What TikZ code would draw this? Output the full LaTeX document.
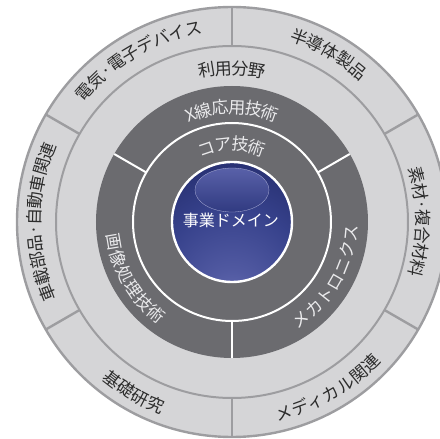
\documentclass[tikz,border=0pt]{standalone}
\usepackage{fontspec}
\setmainfont{Noto Sans CJK JP}
\usetikzlibrary{decorations.text}
\definecolor{bandgray}{HTML}{D5D5D7}
\definecolor{linegray}{HTML}{9D9DA0}
\definecolor{ringgray}{HTML}{6B6B6F}
\definecolor{txtdark}{HTML}{2B2B2B}
\definecolor{txtlight}{HTML}{EAEAEC}
\definecolor{balldark}{HTML}{1F2663}
\definecolor{ballmid}{HTML}{36418B}
\definecolor{ballglow}{HTML}{6C72B8}
\pgfdeclareradialshading{ballshade}{\pgfpoint{0bp}{-38bp}}{color(0bp)=(ballglow);color(12bp)=(ballglow!50!ballmid);color(30bp)=(ballmid);color(52bp)=(balldark);color(80bp)=(balldark)}
\newcommand\outtxt{\fontsize{17}{20}\selectfont\color{txtdark}}
\newcommand\intxt{\fontsize{17}{20}\selectfont\color{txtlight}}

\begin{document}
\begin{tikzpicture}[x=1pt,y=1pt,arctext/.style={decorate,decoration={text along path,text align=center,raise=-6.5pt,text={#1}}},outline/.style={draw=linegray,line width=2.4pt},cut/.style={draw=white,line width=2pt}]
\useasboundingbox(-232,-217)rectangle(208,222);
\clip(-232,-217)rectangle(208,222);
% rings
\fill[bandgray,outline](0,0)circle(215);
\draw[outline,line width=2pt](0,0)circle(176);
\fill[ringgray](0,0)circle(136);
\draw[cut](0,0)circle(99);
\foreach \a in {30,90,...,330}\draw[outline](\a:176)--(\a:215);
\foreach \a in {30,150,270}\draw[cut](\a:99)--(\a:136);
% core
\shade[shading=ballshade,draw=white,line width=2.4pt](0,0)circle(60);
\shade[top color=ballglow!65!ballmid,bottom color=ballmid!75!balldark,draw=ballglow!55!white,line width=.3pt](0,32)ellipse[x radius=37,y radius=22];
\node[text=white,font=\fontsize{16}{18}\selectfont](dom)at(-1,2){事業ドメイン};
% labels
\path[arctext={|\outtxt|電気·電子デバイス}](150:197)arc[start angle=150,end angle=90,radius=197];
\path[arctext={|\outtxt|半導体製品}](90:197)arc[start angle=90,end angle=30,radius=197];
\path[arctext={|\outtxt|素材·複合材料}](30:191)arc[start angle=30,end angle=-30,radius=191];
\path[arctext={|\outtxt|メディカル関連}](270:198)arc[start angle=270,end angle=330,radius=198];
\path[arctext={|\outtxt|基礎研究}](210:198)arc[start angle=210,end angle=270,radius=198];
\path[arctext={|\outtxt|車載部品·自動車関連}](210:198)arc[start angle=210,end angle=150,radius=198];
\path[arctext={|\outtxt|利用分野}](180:154)arc[start angle=180,end angle=0,radius=154];
\path[arctext={|\intxt|X線応用技術}](150:115)arc[start angle=150,end angle=30,radius=115];
\path[arctext={|\intxt|画像処理技術}](150:119)arc[start angle=150,end angle=270,radius=119];
\path[arctext={|\intxt|メカトロニクス}](270:119)arc[start angle=270,end angle=390,radius=119];
\path[arctext={|\intxt|コア技術}](150:78)arc[start angle=150,end angle=30,radius=78];
\end{tikzpicture}
\end{document}
